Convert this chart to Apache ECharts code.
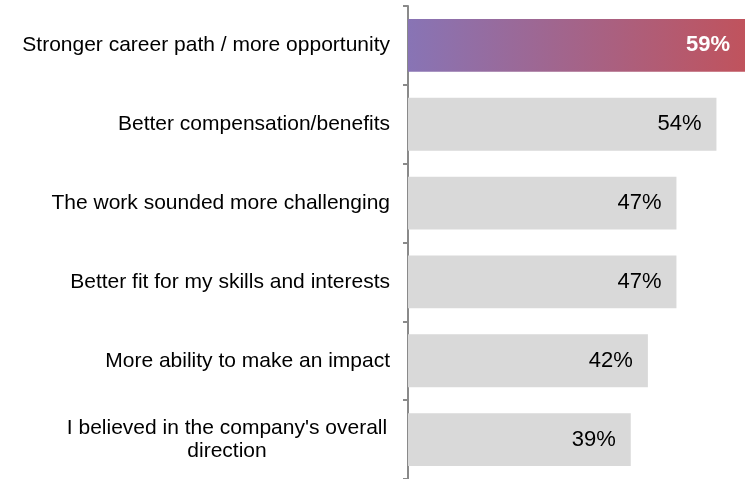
<!DOCTYPE html>
<html>
<head>
<meta charset="utf-8">
<script src="https://cdn.jsdelivr.net/npm/echarts@6/dist/echarts.min.js"></script>
<style>
  html, body { margin: 0; padding: 0; background: #fff; }
  #chart { width: 745px; height: 479px; }
</style>
</head>
<body>
<div id="chart"></div>
<script>
var categories = [
  'Stronger career path / more opportunity',
  'Better compensation/benefits',
  'The work sounded more challenging',
  'Better fit for my skills and interests',
  'More ability to make an impact',
  "I believed in the company's overall\ndirection"
]
var values = [59, 54, 47, 47, 42, 39]

var font = '"Liberation Sans", Arial, sans-serif'

var chart = echarts.init(document.getElementById('chart'))

var seriesData = values.map(function (v, i) {
  if (i === 0) {
    return {
      value: v,
      itemStyle: {
        color: new echarts.graphic.LinearGradient(0, 0, 1, 0, [
          { offset: 0, color: '#8874b5' },
          { offset: 1, color: '#c0535d' }
        ])
      },
      label: { color: '#fff', fontWeight: 'bold' }
    }
  }
  return { value: v }
})

chart.setOption({
  animation: false,
  grid: { left: 408, top: 6, width: 340, height: 474 },
  xAxis: {
    type: 'value',
    min: 0,
    max: 59,
    show: false
  },
  yAxis: {
    type: 'category',
    inverse: true,
    data: categories,
    axisLine: { show: true, lineStyle: { color: '#8a8a8a', width: 2 } },
    axisTick: { show: true, length: 5, lineStyle: { color: '#8a8a8a', width: 2 } },
    axisLabel: {
      margin: 18,
      fontFamily: font,
      fontSize: 21,
      color: '#000',
      lineHeight: 23,
      formatter: function (val) {
        if (val.indexOf('\n') >= 0) {
          return val.split('\n').map(function (s) { return '{c|' + s + '}' }).join('\n')
        }
        return val
      },
      rich: {
        c: { width: 326, align: 'center', fontSize: 21, fontFamily: font, lineHeight: 23, color: '#000' }
      }
    }
  },
  series: [{
    type: 'bar',
    data: seriesData,
    barCategoryGap: '33%',
    itemStyle: { color: '#d9d9d9' },
    label: {
      show: true,
      position: 'insideRight',
      distance: 15,
      fontFamily: font,
      fontSize: 22,
      color: '#000',
      formatter: '{c}%'
    }
  }]
})
</script>
</body>
</html>
